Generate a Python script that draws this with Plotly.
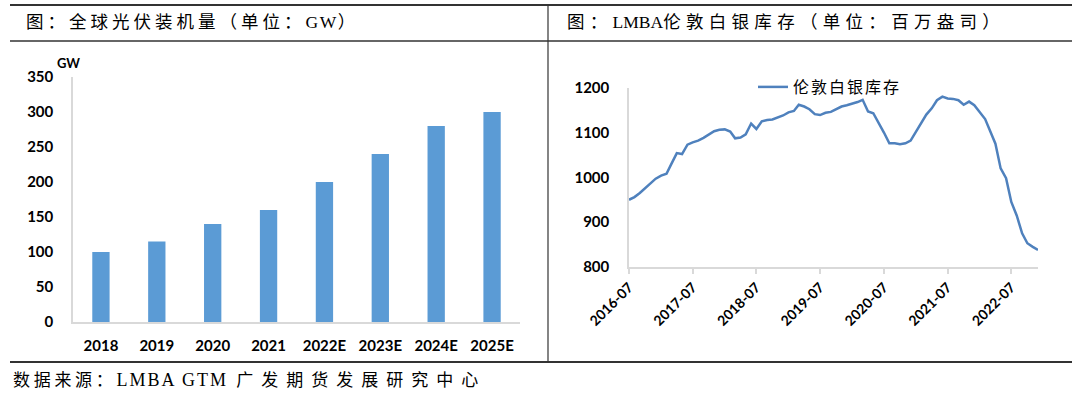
import plotly.graph_objects as go
import pandas as pd

W, H = 1080, 395

# ---- Left chart data: global PV installations (GW)
pv_years = ["2018", "2019", "2020", "2021", "2022E", "2023E", "2024E", "2025E"]
pv_values = [100, 115, 140, 160, 200, 240, 280, 300]

# ---- Right chart data: LMBA London silver vault holdings (million oz), monthly from 2016-07
silver_start = "2016-07-01"
silver_values = [
    950, 956, 965, 975, 985, 997, 1004, 1008, 1030, 1054, 1052, 1073,
    1078, 1082, 1088, 1095, 1103, 1106, 1107, 1102, 1087, 1089, 1096, 1120,
    1108, 1125, 1128, 1129, 1134, 1138, 1145, 1148, 1162, 1158, 1152, 1141,
    1139, 1144, 1146, 1152, 1158, 1161, 1164, 1168, 1173, 1147, 1143, 1122,
    1100, 1076, 1076, 1074, 1076, 1082, 1102, 1122, 1140, 1154, 1172, 1180,
    1176, 1175, 1172, 1162, 1169, 1161, 1145, 1130, 1104, 1075, 1020, 998,
    945, 915, 875, 853, 845, 838,
]
silver_tick_labels = ["2016-07", "2017-07", "2018-07", "2019-07", "2020-07", "2021-07", "2022-07"]

silver_dates = pd.date_range(silver_start, periods=len(silver_values), freq="MS")


def px_x(p):
    return p / W


def px_y(p):
    return 1 - p / H


TICK_FAMILY = "Lato, 'Open Sans', 'Liberation Sans', Arial"
TICK_FONT = dict(family=TICK_FAMILY, size=15, color="#000000", weight="bold")
SERIF = "'Liberation Serif', 'Noto Sans CJK SC', serif"
AXIS_COLOR = "#d9d9d9"


def is_cjk(ch):
    return ord(ch) >= 0x2E80


def spaced(text, cjk_px, latin_px=0.0):
    """Wrap runs of CJK / Latin characters in spans with their own letter spacing."""
    out, run, run_cjk = [], "", None
    for ch in text:
        c = is_cjk(ch)
        if run and c != run_cjk:
            out.append((run, run_cjk))
            run = ""
        run += ch
        run_cjk = c
    if run:
        out.append((run, run_cjk))
    parts = []
    for seg, c in out:
        sp = cjk_px if c else latin_px
        parts.append(f'<span style="letter-spacing:{sp}px">{seg}</span>')
    return "".join(parts)


fig = go.Figure()

fig.add_trace(go.Bar(
    x=pv_years, y=pv_values, marker=dict(color="#5B9BD5", line=dict(width=0)),
    xaxis="x", yaxis="y", showlegend=False, name="全球光伏装机量",
))

fig.add_trace(go.Scatter(
    x=silver_dates, y=silver_values, mode="lines",
    line=dict(color="#4F81BD", width=2.5),
    xaxis="x2", yaxis="y2", name=spaced("伦敦白银库存", 2), showlegend=True,
))

fig.update_layout(
    width=W, height=H,
    margin=dict(l=0, r=0, t=0, b=0, autoexpand=False),
    paper_bgcolor="white", plot_bgcolor="white",
    bargap=0.69,
    xaxis=dict(
        domain=[px_x(73), px_x(520)], anchor="y", automargin=False,
        showline=True, linecolor=AXIS_COLOR, linewidth=1.5,
        showgrid=False, ticks="", tickfont=TICK_FONT, ticklabelstandoff=9,
    ),
    yaxis=dict(
        domain=[px_y(322), px_y(77)], anchor="x", automargin=False,
        range=[0, 350], dtick=50, showgrid=False,
        showline=True, linecolor=AXIS_COLOR, linewidth=1.5,
        ticks="", tickfont=TICK_FONT, ticklabelstandoff=15, zeroline=False,
    ),
    xaxis2=dict(
        domain=[px_x(629), px_x(1038)], anchor="y2", type="date", automargin=False,
        range=[silver_dates[0], silver_dates[-1]],
        tickvals=pd.to_datetime([s + "-01" for s in silver_tick_labels]),
        ticktext=silver_tick_labels, tickangle=-45,
        showline=True, linecolor=AXIS_COLOR, linewidth=1.5,
        ticks="outside", ticklen=5, tickcolor=AXIS_COLOR, tickwidth=1.5,
        showgrid=False, tickfont=dict(family=TICK_FAMILY, size=14, color="#000000", weight="bold"),
    ),
    yaxis2=dict(
        domain=[px_y(267), px_y(87.7)], anchor="x2", automargin=False,
        range=[800, 1200], dtick=100, showgrid=False,
        showline=True, linecolor=AXIS_COLOR, linewidth=1.5,
        ticks="", tickfont=TICK_FONT, ticklabelstandoff=15, zeroline=False,
    ),
    legend=dict(
        x=px_x(753), y=px_y(87), xanchor="left", yanchor="middle",
        bgcolor="rgba(0,0,0,0)", font=dict(family=SERIF, size=16, color="#000000"),
    ),
)

# Frame lines
line_dark = dict(color="#333333", width=2)
shapes = [
    dict(type="line", xref="paper", yref="paper", x0=px_x(10), x1=px_x(1072), y0=px_y(5), y1=px_y(5), line=line_dark),
    dict(type="line", xref="paper", yref="paper", x0=px_x(10), x1=px_x(1072), y0=px_y(41), y1=px_y(41), line=dict(color="#333333", width=1.5)),
    dict(type="line", xref="paper", yref="paper", x0=px_x(10), x1=px_x(1072), y0=px_y(362), y1=px_y(362), line=line_dark),
    dict(type="line", xref="paper", yref="paper", x0=px_x(548), x1=px_x(548), y0=px_y(5), y1=px_y(362), line=dict(color="#333333", width=1.2)),
]
fig.update_layout(shapes=shapes)

footer = (
    '<span style="letter-spacing:3.7px">数据来源：</span>'
    '<span style="letter-spacing:2px;font-size:18px">LMBA GTM</span>'
    '<span style="letter-spacing:4px"> </span>'
    '<span style="letter-spacing:8px">广发期货发展研究中心</span>'
)

annotations = [
    dict(text=spaced("图：全球光伏装机量（单位：GW）", 4.0, 1.5), x=px_x(24), y=px_y(22), xref="paper", yref="paper",
         xanchor="left", yanchor="middle", showarrow=False, font=dict(family=SERIF, size=17.5, color="#000000")),
    dict(text=spaced("图：LMBA伦敦白银库存（单位：百万盎司）", 5.3, 0), x=px_x(565), y=px_y(22), xref="paper", yref="paper",
         xanchor="left", yanchor="middle", showarrow=False, font=dict(family=SERIF, size=17.5, color="#000000")),
    dict(text="GW", x=px_x(55), y=px_y(63), xref="paper", yref="paper",
         xanchor="left", yanchor="middle", showarrow=False, font=dict(family=TICK_FAMILY, size=13, color="#000000", weight="bold")),
    dict(text=footer, x=px_x(11), y=px_y(380), xref="paper", yref="paper",
         xanchor="left", yanchor="middle", showarrow=False, font=dict(family=SERIF, size=17, color="#000000")),
]
fig.update_layout(annotations=annotations)

fig.write_html("out.html", post_script="document.body.style.margin='0';",
               config={"displayModeBar": False})
